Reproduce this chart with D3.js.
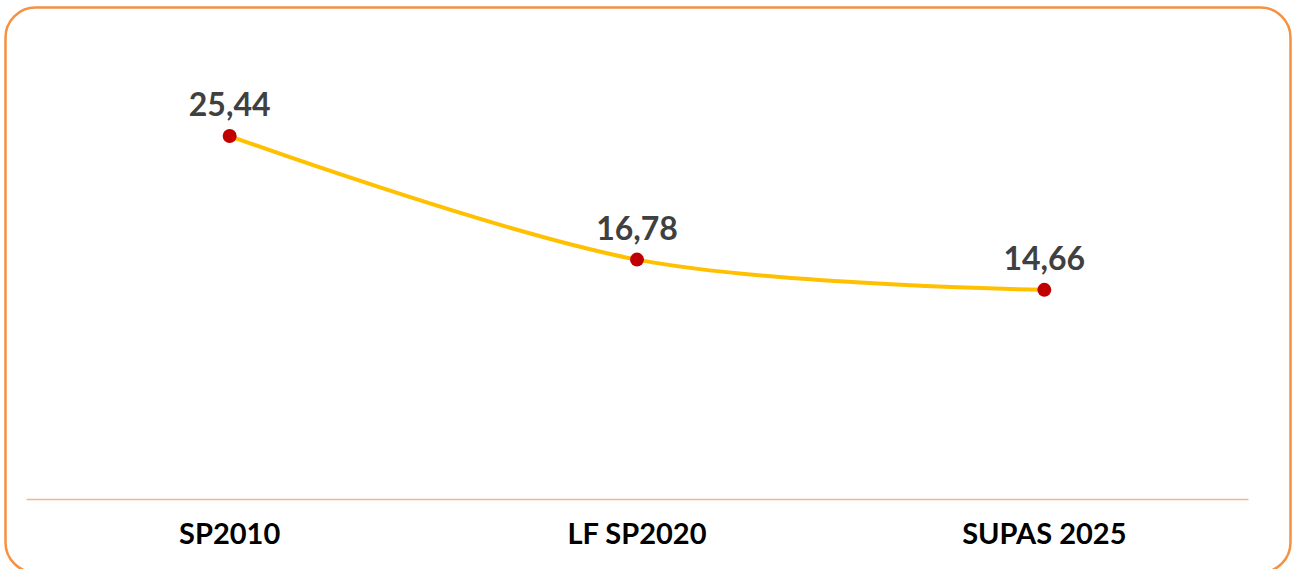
<!DOCTYPE html>
<html>
<head>
<meta charset="utf-8">
<script src="https://cdn.jsdelivr.net/npm/d3@7"></script>
<style>
html,body{margin:0;padding:0;background:#fff;}
svg{display:block;}
</style>
</head>
<body>
<svg id="chart" width="1293" height="569"></svg>
<script>
const categories = ["SP2010", "LF SP2020", "SUPAS 2025"];
const values = [25.44, 16.78, 14.66];
const valueLabels = ["25,44", "16,78", "14,66"];

const W = 1293, H = 569;
const svg = d3.select("#chart");

// outer rounded frame (bottom edge runs just past the visible area)
svg.append("rect")
  .attr("x", 5.5).attr("y", 7.5)
  .attr("width", 1285).attr("height", 565)
  .attr("rx", 30).attr("ry", 30)
  .attr("fill", "#fff")
  .attr("stroke", "#F59140")
  .attr("stroke-width", 2.5);

const x = d3.scaleBand().domain(categories).range([26, 1248]);
const y = d3.scaleLinear().domain([0, 30]).range([499, 71]);

// x axis
const xAxis = d3.axisBottom(x).tickSize(0).tickPadding(0);
const gx = svg.append("g").attr("transform", "translate(0,499)").call(xAxis);
gx.select(".domain").attr("stroke", "#F7B48A").attr("stroke-width", 1.3);
gx.selectAll(".tick text")
  .attr("dy", null)
  .attr("y", 45)
  .attr("fill", "#000")
  .style("font-family", "Lato, 'Open Sans', sans-serif")
  .style("font-weight", "bold")
  .style("font-size", "29px");

const data = categories.map((c, i) => ({c, v: values[i], label: valueLabels[i]}));
const cx = d => x(d.c) + x.bandwidth() / 2;

const line = d3.line()
  .x(cx)
  .y(d => y(d.v))
  .curve(d3.curveCatmullRom.alpha(0));

svg.append("path")
  .datum(data)
  .attr("d", line)
  .attr("fill", "none")
  .attr("stroke", "#FFC000")
  .attr("stroke-width", 4)
  .attr("stroke-linecap", "round");

svg.selectAll("circle.pt")
  .data(data)
  .join("circle")
  .attr("class", "pt")
  .attr("cx", cx)
  .attr("cy", d => y(d.v))
  .attr("r", 7)
  .attr("fill", "#C00000");

svg.selectAll("text.lbl")
  .data(data)
  .join("text")
  .attr("class", "lbl")
  .attr("x", cx)
  .attr("y", d => y(d.v) - 20)
  .attr("text-anchor", "middle")
  .attr("fill", "#404040")
  .style("font-family", "Lato, 'Open Sans', sans-serif")
  .style("font-weight", "bold")
  .style("font-size", "32px")
  .text(d => d.label);
</script>
</body>
</html>
